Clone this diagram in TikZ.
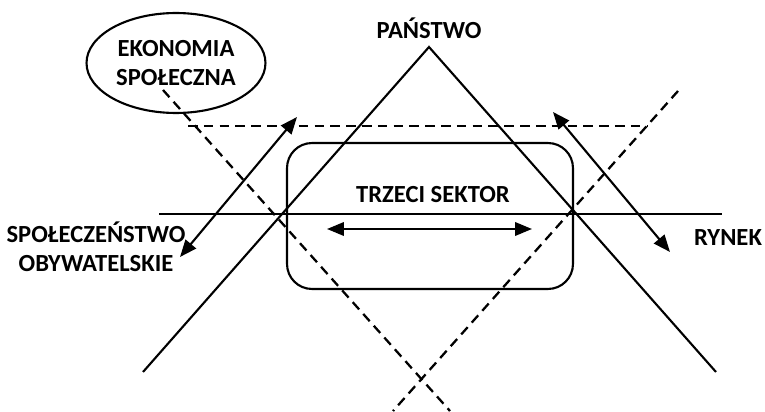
\documentclass[tikz,border=0pt]{standalone}
\usepackage{fontspec}
\setmainfont{Carlito}
\usetikzlibrary{arrows.meta,shapes.geometric}

\tikzset{
  lbl/.style={font=\fontsize{14}{16.5}\selectfont\bfseries, align=center, inner sep=0pt},
  solidline/.style={line width=1.2pt},
  dashline/.style={line width=1.3pt, dash pattern=on 5.5pt off 3.5pt},
  twoway/.style={line width=1.2pt, {Triangle[length=3.4mm,width=2.7mm]}-{Triangle[length=3.4mm,width=2.7mm]}},
}

\begin{document}
\begin{tikzpicture}[x=0.02cm, y=-0.02cm]
  \useasboundingbox (0,0) rectangle (765,412);

  % labels
  \node[lbl] (panstwo) at (429, 28) {PAŃSTWO};
  \node[lbl, draw, line width=1.2pt, ellipse, minimum width=3.58cm, minimum height=2cm] (ekonomia) at (176, 63) {EKONOMIA\\SPOŁECZNA};
  \node[lbl] (obyw) at (96, 247) {SPOŁECZEŃSTWO\\OBYWATELSKIE};
  \node[lbl] (rynek) at (728, 238) {RYNEK};
  \node[draw, line width=1.2pt, rounded corners=0.5cm, minimum width=5.72cm, minimum height=2.92cm] (sektor) at (430, 216) {};
  \node[lbl] (trzeci) at (433, 195) {TRZECI SEKTOR};

  % solid triangle and axis
  \coordinate (apex) at (429, 47);
  \coordinate (lfoot) at (143, 372);
  \coordinate (rfoot) at (716, 372);
  \draw[solidline] (lfoot) -- (apex) -- (rfoot);
  \draw[solidline] (159, 214) -- (722, 214);

  % dashed triangle
  \draw[dashline] (188, 126) -- (647, 126);
  \draw[dashline] (163, 90) -- (450, 411);
  \draw[dashline] (678, 91) -- (393, 411);

  % arrows
  \draw[twoway] (180, 257) -- (297, 117);
  \draw[twoway] (553, 112) -- (670, 252);
  \draw[twoway] (327, 229) -- (532, 229);
\end{tikzpicture}
\end{document}
